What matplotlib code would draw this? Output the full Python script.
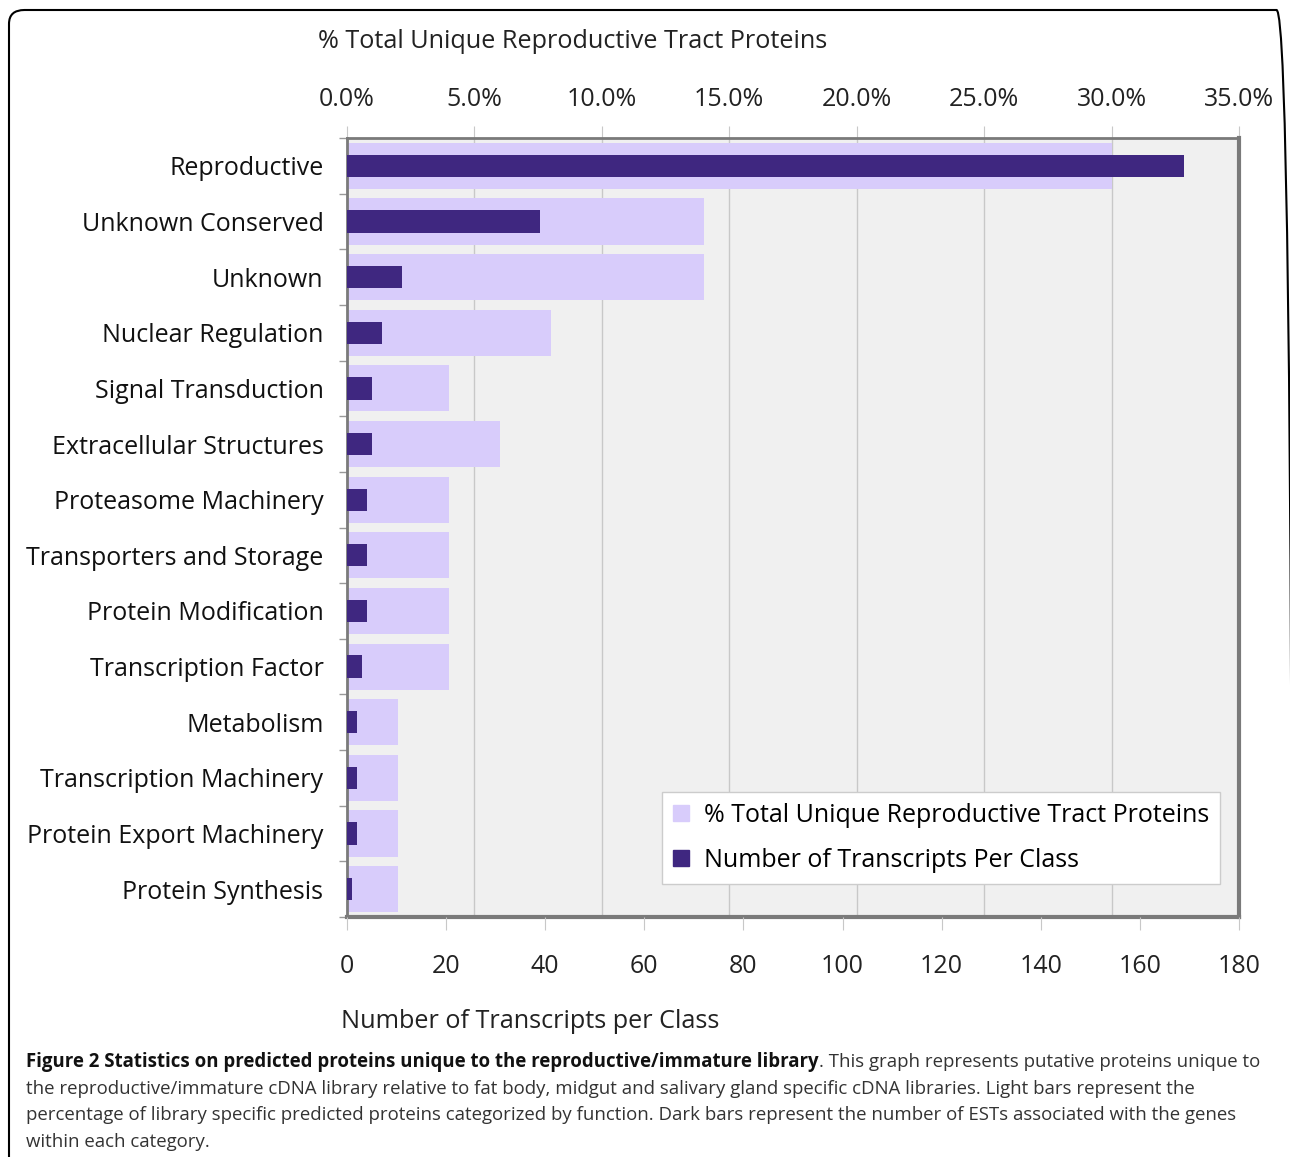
import numpy as np
import matplotlib
matplotlib.use("Agg")
from matplotlib import pyplot as plt
from matplotlib.lines import Line2D
from matplotlib.patches import FancyBboxPatch

plt.rcParams['font.family'] = ['Open Sans', 'DejaVu Sans']

categories = ["Reproductive", "Unknown Conserved", "Unknown", "Nuclear Regulation",
              "Signal Transduction", "Extracellular Structures", "Proteasome Machinery",
              "Transporters and Storage", "Protein Modification", "Transcription Factor",
              "Metabolism", "Transcription Machinery", "Protein Export Machinery",
              "Protein Synthesis"]
pct_unique = [30, 14, 14, 8, 4, 6, 4, 4, 4, 4, 2, 2, 2, 2]
n_transcripts = [169, 39, 11, 7, 5, 5, 4, 4, 4, 3, 2, 2, 2, 1]
pct_ticks = [0, 5, 10, 15, 20, 25, 30, 35]
count_ticks = [0, 20, 40, 60, 80, 100, 120, 140, 160, 180]

light = '#d8ccfb'
dark = '#3f2780'
W, H = 1290, 1157

fig = plt.figure(figsize=(W / 100, H / 100), dpi=100)

# outer rounded frame of the figure panel
frame = FancyBboxPatch((9 / W, -30 / H), (1292 - 9) / W, (H - 10 + 30) / H,
                       boxstyle="round,pad=0,rounding_size=0.012",
                       transform=fig.transFigure, fill=False, ec='black', lw=1.5,
                       clip_on=False)
fig.patches.append(frame)

ax = fig.add_axes([347 / W, 1 - 917 / H, (1239 - 347) / W, (917 - 138) / H])
ax.set_facecolor('#f0f0f0')
y = np.arange(len(categories))

# dark bars: transcripts count (bottom axis) -- twin sits on top of ax
ax2 = ax.twiny()

# light bars: percent scale (top axis)
ax.barh(y, pct_unique, height=0.83, color=light, zorder=2)
ax.set_xlim(0, 35)
ax.set_ylim(len(categories) - 0.5, -0.5)
ax.xaxis.tick_top()
ax.xaxis.set_label_position('top')
ax.set_xticks(pct_ticks)
ax.set_xticklabels(["%.1f%%" % t for t in pct_ticks])
ax.grid(axis='x', color='#c8c8c8', lw=1, zorder=1)
ax.tick_params(axis='x', which='major', length=9, color='#c8c8c8', pad=10,
               labelsize=18, labelcolor='#222222')
ax.set_yticks(y)
ax.set_yticklabels(categories)
ax.set_yticks(np.arange(-0.5, len(categories), 1), minor=True)
ax.tick_params(axis='y', which='major', length=0, pad=17, labelsize=18,
               labelcolor='#111111')
ax.tick_params(axis='y', which='minor', length=6, color='#999999', width=1)
for s in ax.spines.values():
    s.set_color('#7a7a7a')
    s.set_linewidth(2)
ax.spines['right'].set_linewidth(3)
ax.spines['bottom'].set_linewidth(3)

ax2.barh(y, n_transcripts, height=0.40, color=dark, zorder=3)
ax2.set_xlim(0, 180)
ax2.set_ylim(len(categories) - 0.5, -0.5)
ax2.xaxis.tick_bottom()
ax2.xaxis.set_label_position('bottom')
ax2.set_xticks(count_ticks)
ax2.tick_params(axis='x', length=9, color='#c8c8c8', pad=17.5, labelsize=18,
                labelcolor='#222222')
for s in ax2.spines.values():
    s.set_visible(False)

handles = [Line2D([], [], ls='none', marker='s', ms=11, mfc=light, mec=light),
           Line2D([], [], ls='none', marker='s', ms=11, mfc=dark, mec=dark)]
leg = ax2.legend(handles, ["% Total Unique Reproductive Tract Proteins",
                           "Number of Transcripts Per Class"],
                 loc='lower right', bbox_to_anchor=((1220 - 347) / 892, (917 - 884) / 779),
                 fontsize=18, frameon=True, fancybox=False, edgecolor='#cccccc',
                 framealpha=1, handlelength=0.6, handletextpad=0.6,
                 borderpad=0.45, labelspacing=0.8, borderaxespad=0)
leg.get_frame().set_linewidth(1)

fig.text(318 / W, 1 - 41 / H, "% Total Unique Reproductive Tract Proteins",
         fontsize=18.2, va='center', ha='left', color='#222222')
fig.text(341 / W, 1 - 1021 / H, "Number of Transcripts per Class",
         fontsize=18.2, va='center', ha='left', color='#222222')

# caption
cap_kw = dict(fontsize=13.4, va='center', ha='left', color='#333333')
bold = fig.text(26 / W, 1 - 1062 / H,
                "Figure 2 Statistics on predicted proteins unique to the reproductive/immature library",
                fontweight='bold', **dict(cap_kw, color='#111111'))
renderer = fig.canvas.get_renderer()
bb = bold.get_window_extent(renderer)
fig.text(bb.x1 / W, 1 - 1062 / H,
         ". This graph represents putative proteins unique to", **cap_kw)
caption_lines = [
    "the reproductive/immature cDNA library relative to fat body, midgut and salivary gland specific cDNA libraries. Light bars represent the",
    "percentage of library specific predicted proteins categorized by function. Dark bars represent the number of ESTs associated with the genes",
    "within each category.",
]
for i, line in enumerate(caption_lines):
    fig.text(26 / W, 1 - (1089 + 26.3 * i) / H, line, **cap_kw)

fig.savefig("out.png", dpi=100)
